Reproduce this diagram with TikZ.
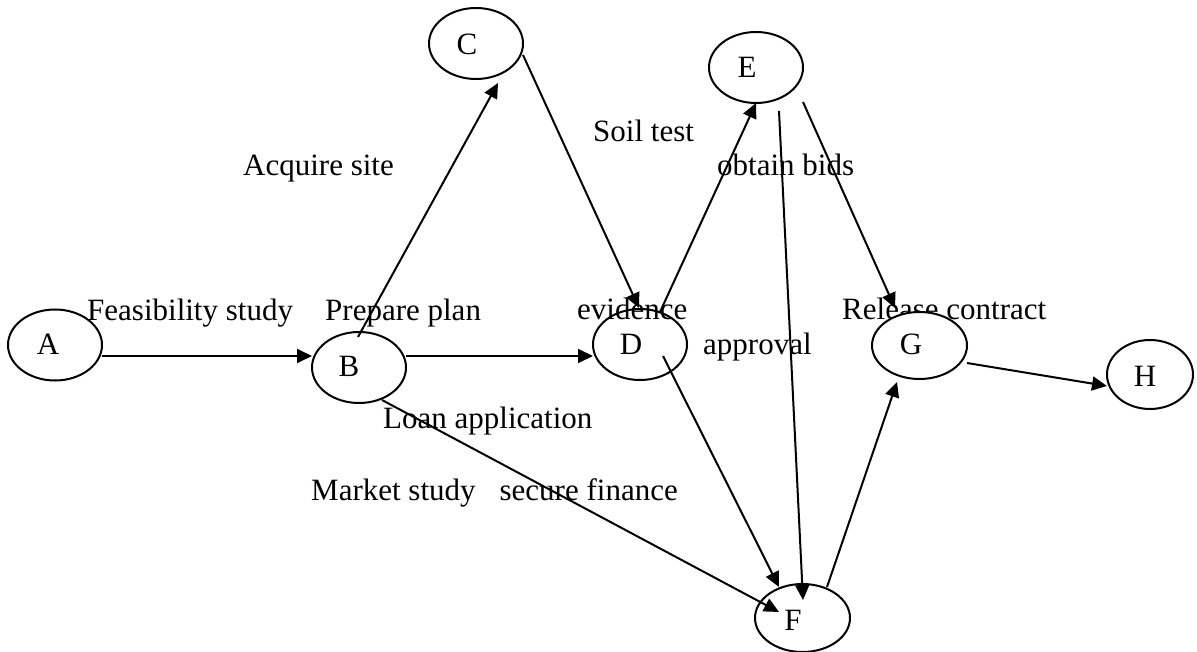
\documentclass[tikz,border=0pt]{standalone}
\usepackage{fontspec}
\setmainfont{Liberation Serif}
\usetikzlibrary{shapes.geometric,arrows.meta,calc}
\begin{document}
\begin{tikzpicture}[x=1pt,y=-1pt,
  every node/.style={font=\fontsize{31}{36}\selectfont},
  ev/.style={draw,ellipse,line width=2pt,minimum width=94pt,minimum height=71pt,inner sep=0pt,outer sep=0pt},
  letter/.style={anchor=base,inner sep=0pt},
  txt/.style={anchor=base west,inner sep=0pt},
  conn/.style={line width=2pt,-{Triangle[length=15pt,width=14pt]}}]
\useasboundingbox (0,0) rectangle (1197,652);
% labels (drawn first so lines overlap them as in reference)
\node[txt] (tFeas) at (87,321) {Feasibility study};
\node[txt] (tPrep) at (325,321) {Prepare plan};
\node[txt] (tEvid) at (577,320) {evidence};
\node[txt] (tAppr) at (703,355) {approval};
\node[txt] (tRel) at (842,320) {Release contract};
\node[txt] (tSoil) at (593,142) {Soil test};
\node[txt] (tBids) at (717,176) {obtain bids};
\node[txt] (tAcq) at (243,176) {Acquire site};
\node[txt] (tLoan) at (383,428) {Loan application};
\node[txt] (tMkt) at (311,500) {Market study\hspace*{24pt}secure finance};
% events
\node[ev] (nA) at (55,345) {};
\node[ev] (nB) at (359,367.5) {};
\node[ev] (nC) at (476,43.5) {};
\node[ev] (nD) at (640,344.5) {};
\node[ev] (nE) at (756,67.5) {};
\node[ev,minimum width=95pt,minimum height=68pt] (nF) at (802.5,618) {};
\node[ev,fill=white,minimum width=95pt,minimum height=67pt] (nG) at (919.5,345.5) {};
\node[ev,minimum width=86pt,minimum height=69pt] (nH) at (1150,374.5) {};
\node[letter] (lA) at (48,355) {A};
\node[letter] (lB) at (349,377) {B};
\node[letter] (lC) at (467,55) {C};
\node[letter] (lD) at (631,355) {D};
\node[letter] (lE) at (747,78) {E};
\node[letter] (lF) at (793,630) {F};
\node[letter] (lG) at (911,355) {G};
\node[letter] (lH) at (1145,386) {H};
% activities
\draw[conn] ($(nA)+(47,11)$) -- ($(nB)+(-47,-11.5)$);
\draw[conn] ($(nB)+(47,-11.5)$) -- ($(nD)+(-47,11.5)$);
\draw[conn] ($(nB)+(-1,-30.5)$) -- ($(nC)+(22,39.5)$);
\draw[conn] ($(nC)+(47,11.5)$) -- ($(nD)+(-1,-36.5)$);
\draw[conn] ($(nD)+(20,-32.5)$) -- ($(nE)+(0,35.5)$);
\draw[conn] ($(nD)+(23,11.5)$) -- ($(nF)+(-23.5,-31)$);
\draw[conn] ($(nB)+(23,32.5)$) -- ($(nF)+(-23.5,-6)$);
\draw[conn] ($(nE)+(23,43.5)$) -- ($(nF)+(0.5,-18)$);
\draw[conn] ($(nE)+(47,34.5)$) -- ($(nG)+(-24.5,-37.5)$);
\draw[conn] ($(nF)+(24.5,-31)$) -- ($(nG)+(-22.5,36.5)$);
\draw[conn] ($(nG)+(47.5,17.5)$) -- ($(nH)+(-43,11.5)$);
\end{tikzpicture}
\end{document}
